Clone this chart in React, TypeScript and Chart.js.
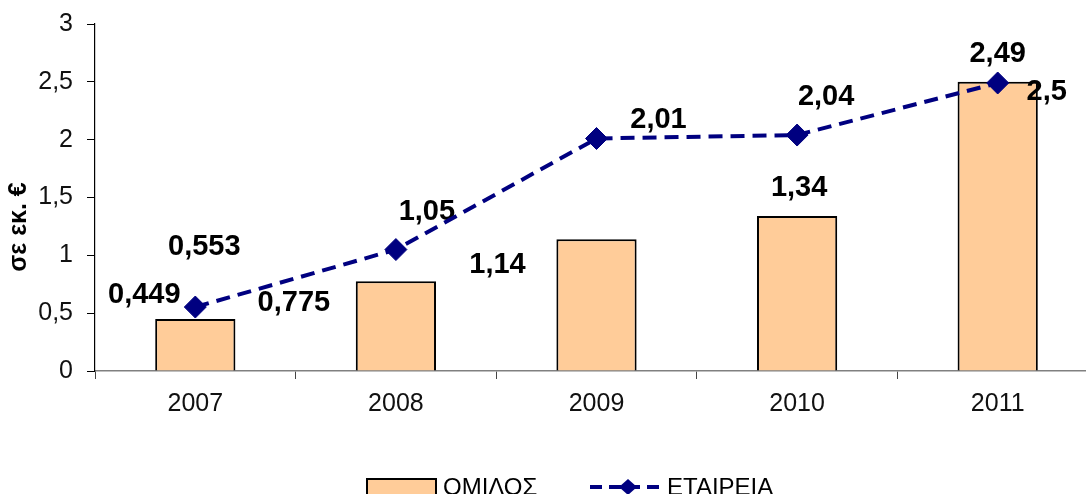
import React, { useEffect, useRef } from "react";
import { Chart, registerables } from "chart.js";

Chart.register(...registerables);

const categories = ["2007", "2008", "2009", "2010", "2011"];
const groupValues = [0.449, 0.775, 1.14, 1.34, 2.5];
const companyValues = [0.553, 1.05, 2.01, 2.04, 2.49];
const groupName = "ΟΜΙΛΟΣ";
const companyName = "ΕΤΑΙΡΕΙΑ";
const yAxisTitle = "σε εκ. €";
const yMin = 0;
const yMax = 3;
const yStep = 0.5;

// label placement offsets (px) relative to each mark
const groupLabelOffsets = [
  [-51, -24],
  [-102, 22],
  [-99, 26],
  [2, -28],
  [49, 10],
];
const companyLabelOffsets = [
  [9, -60],
  [31, -38],
  [62, -19],
  [29, -38],
  [0, -29],
];

const FONT = "'Liberation Sans', Arial, Helvetica, sans-serif";
const BAR_FILL = "#FFCC99";
const LINE_COLOR = "#000080";

const fmt = (v: number) => String(v).replace(".", ",");

const labelPlugin = {
  id: "valueLabels",
  afterDatasetDraw(chart: any, args: any) {
    if (args.index !== 0) return;
    const ctx = chart.ctx;
    ctx.save();
    ctx.font = `bold 29px ${FONT}`;
    ctx.fillStyle = "#000";
    ctx.textAlign = "center";
    ctx.textBaseline = "middle";
    const barMeta = chart.getDatasetMeta(0);
    barMeta.data.forEach((el: any, i: number) => {
      const [dx, dy] = groupLabelOffsets[i];
      ctx.fillText(fmt(groupValues[i]), el.x + dx, el.y + dy);
    });
    const lineMeta = chart.getDatasetMeta(1);
    lineMeta.data.forEach((el: any, i: number) => {
      const [dx, dy] = companyLabelOffsets[i];
      ctx.fillText(fmt(companyValues[i]), el.x + dx, el.y + dy);
    });
    ctx.restore();
  },
};

const decorPlugin = {
  id: "decor",
  afterDraw(chart: any) {
    const ctx = chart.ctx;
    ctx.save();
    // y-axis title
    ctx.font = `bold 25px ${FONT}`;
    ctx.fillStyle = "#000";
    ctx.textAlign = "center";
    ctx.textBaseline = "middle";
    ctx.translate(19, 227);
    ctx.rotate(-Math.PI / 2);
    ctx.fillText(yAxisTitle, 0, 0);
    ctx.restore();

    // legend
    ctx.save();
    ctx.fillStyle = BAR_FILL;
    ctx.strokeStyle = "#000";
    ctx.lineWidth = 2;
    ctx.fillRect(367, 479, 69, 18);
    ctx.strokeRect(367, 479, 69, 18);
    ctx.font = `24px ${FONT}`;
    ctx.fillStyle = "#000";
    ctx.textAlign = "left";
    ctx.textBaseline = "alphabetic";
    ctx.fillText(groupName, 443, 495);

    ctx.strokeStyle = LINE_COLOR;
    ctx.lineWidth = 4;
    ctx.setLineDash([12, 7]);
    ctx.beginPath();
    ctx.moveTo(590, 487);
    ctx.lineTo(664, 487);
    ctx.stroke();
    ctx.setLineDash([]);
    ctx.fillStyle = LINE_COLOR;
    ctx.beginPath();
    ctx.moveTo(628, 479);
    ctx.lineTo(637, 487);
    ctx.lineTo(628, 495);
    ctx.lineTo(619, 487);
    ctx.closePath();
    ctx.fill();
    ctx.fillStyle = "#000";
    ctx.fillText(companyName, 667, 495);
    ctx.restore();
  },
};

export default function App() {
  const canvasRef = useRef<HTMLCanvasElement | null>(null);

  useEffect(() => {
    const canvas = canvasRef.current;
    if (!canvas) return;
    const chart = new Chart(canvas, {
      type: "bar",
      data: {
        labels: categories,
        datasets: [
          {
            type: "bar",
            label: groupName,
            data: groupValues,
            backgroundColor: BAR_FILL,
            borderColor: "#000",
            borderWidth: 2,
            barPercentage: 0.4,
            categoryPercentage: 1,
            order: 1,
          },
          {
            type: "line",
            label: companyName,
            data: companyValues,
            borderColor: LINE_COLOR,
            backgroundColor: LINE_COLOR,
            borderWidth: 4,
            borderDash: [14, 8],
            borderCapStyle: "butt",
            tension: 0,
            fill: false,
            pointStyle: "rectRot",
            pointRadius: 11,
            pointBackgroundColor: LINE_COLOR,
            pointBorderColor: LINE_COLOR,
            pointBorderWidth: 1,
            order: 0,
          } as any,
        ],
      },
      options: {
        responsive: false,
        animation: false,
        devicePixelRatio: 1,
        layout: { padding: { left: 0, right: 12, top: 24, bottom: 0 } },
        plugins: {
          legend: { display: false },
          tooltip: { enabled: false },
          title: { display: false },
        },
        scales: {
          x: {
            offset: true,
            border: { display: true, color: "#808080", width: 1.5 },
            grid: {
              display: true,
              offset: true,
              drawOnChartArea: false,
              drawTicks: true,
              tickLength: 8,
              color: "#444",
            },
            ticks: {
              color: "#111",
              font: { family: FONT, size: 25 },
              padding: 10,
              maxRotation: 0,
            },
            afterFit(scale: any) {
              scale.height = 123;
              scale.paddingLeft = 0;
              scale.paddingRight = 0;
            },
          },
          y: {
            min: yMin,
            max: yMax,
            border: { display: true, color: "#000", width: 1.2 },
            grid: {
              display: true,
              drawOnChartArea: false,
              drawTicks: true,
              tickLength: 8,
              color: "#000",
            },
            ticks: {
              stepSize: yStep,
              color: "#111",
              font: { family: FONT, size: 25 },
              padding: 14,
              callback: (v: any) => fmt(Number(v)),
            },
            afterFit(scale: any) {
              scale.width = 95;
              scale.paddingTop = 0;
              scale.paddingBottom = 0;
            },
          },
        },
      },
      plugins: [labelPlugin, decorPlugin],
    });
    return () => chart.destroy();
  }, []);

  return (
    <div
      style={{
        position: "absolute",
        left: 0,
        top: 0,
        width: 1086,
        height: 494,
        overflow: "hidden",
        background: "#fff",
      }}
    >
      <canvas ref={canvasRef} width={1110} height={494} style={{ display: "block" }} />
    </div>
  );
}
